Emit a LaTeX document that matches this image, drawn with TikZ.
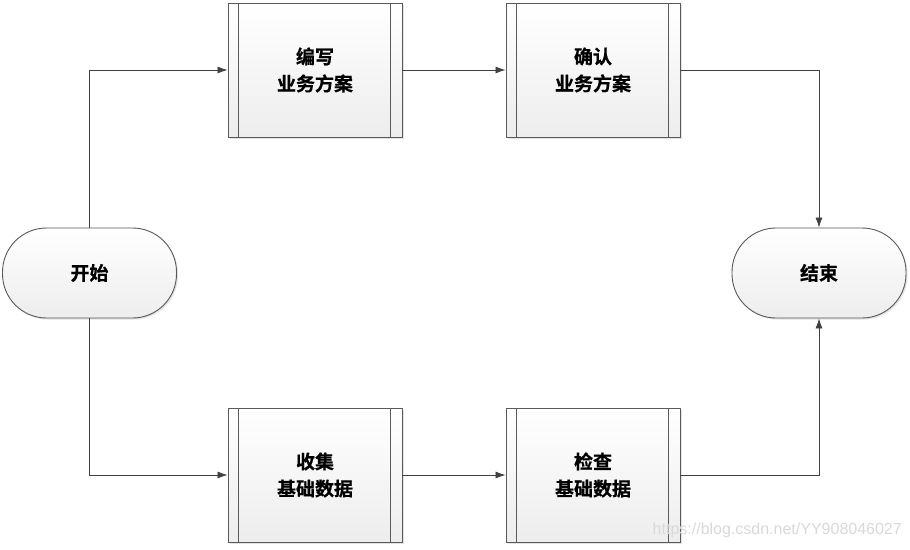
\documentclass[tikz,border=0pt]{standalone}
\usepackage{fontspec}
\newfontfamily\cjk{Noto Sans CJK SC}[BoldFont={Noto Sans CJK SC Bold},BoldFeatures={FakeBold=0.6}]
\usetikzlibrary{arrows.meta,shadows}
\definecolor{edge}{HTML}{5A5A5A}
\definecolor{fillbot}{HTML}{EDEDED}
\tikzset{
  x=1pt,y=-1pt,
  boxfill/.style={draw=edge,line width=0.9pt,top color=white,bottom color=fillbot,
    drop shadow={shadow xshift=1.5pt,shadow yshift=-1.5pt,fill=black!18,opacity=0.6}},
  procbox/.style={boxfill,minimum width=174pt,minimum height=134pt,inner sep=0pt,
    align=center,font=\cjk\bfseries\fontsize{19}{27}\selectfont},
  termbox/.style={boxfill,rounded corners=44pt,minimum width=174pt,minimum height=90pt,
    inner sep=0pt,font=\cjk\bfseries\fontsize{19}{27}\selectfont},
  conn/.style={draw=black!75,line width=0.8pt,-{Latex[length=10pt,width=7pt]}},
}
\begin{document}
\begin{tikzpicture}
\useasboundingbox[fill=white] (0,0) rectangle (910,549);
% process boxes
\node[procbox] (b1) at (315,70) {编写\\业务方案};
\node[procbox] (b2) at (593,70) {确认\\业务方案};
\node[procbox] (b3) at (315,475) {收集\\基础数据};
\node[procbox] (b4) at (593,475) {检查\\基础数据};
\foreach \b in {b1,b2,b3,b4}{
  \draw[edge,line width=0.9pt] ([xshift=11pt]\b.north west) -- ([xshift=11pt]\b.south west);
  \draw[edge,line width=0.9pt] ([xshift=-12pt]\b.north east) -- ([xshift=-12pt]\b.south east);
}
% terminals
\node[termbox] (s) at (89.5,273) {开始};
\node[termbox] (e) at (819,273) {结束};
% connectors
\draw[conn] (s.north) |- (b1.west);
\draw[conn] (b1.east) -- (b2.west);
\draw[conn] (b2.east) -| (e.north);
\draw[conn] (s.south) |- (b3.west);
\draw[conn] (b3.east) -- (b4.west);
\draw[conn] (b4.east) -| (e.south);
% watermark
\node[anchor=east,text=black!15,font=\fontspec{Liberation Sans}\fontsize{16}{18}\selectfont,inner sep=0pt] (wm) at (902,530) {https://blog.csdn.net/YY908046027};
\end{tikzpicture}
\end{document}
